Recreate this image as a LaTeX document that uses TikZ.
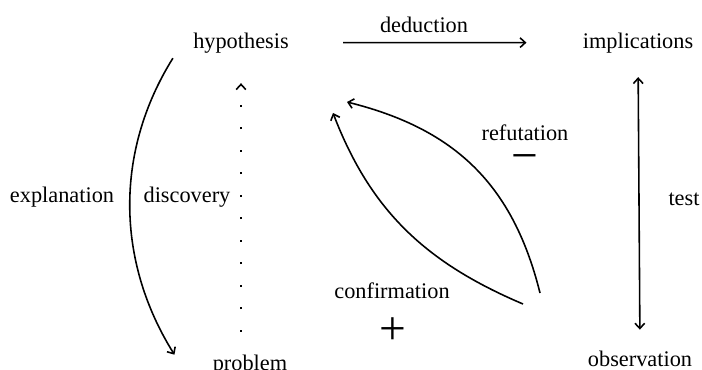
\documentclass[tikz,border=0pt]{standalone}
\usepackage{fontspec}
\setmainfont{Liberation Serif}
\usepackage{tikz}
\usetikzlibrary{arrows.meta, calc, positioning}

\tikzset{
  lbl/.style={inner sep=0pt, anchor=base, font=\fontsize{12.7}{15}\selectfont},
  sign/.style={inner sep=0pt, font=\fontsize{27}{30}\selectfont},
  link/.style={line width=0.9pt, -{Straight Barb[length=3pt,width=5.5pt]}},
}

\begin{document}
\begin{tikzpicture}
  \useasboundingbox (0,0) rectangle (14.04,7.38);

  %--- the four corners ---
  \node[lbl] (hyp)  at (4.82,6.42)  {hypothesis};
  \node[lbl] (impl) at (12.76,6.42) {implications};
  \node[lbl] (obs)  at (12.80,0.06) {observation};
  \node[lbl] (prob) at (5.00,-0.03) {problem};

  %--- labels ---
  \node[lbl] (ded)  at (8.48,6.74)  {deduction};
  \node[lbl] (tst)  at (13.68,3.28) {test};
  \node[lbl] (expl) at (1.24,3.34)  {explanation};
  \node[lbl] (disc) at (3.74,3.34)  {discovery};
  \node[lbl] (refu) at (10.50,4.58) {refutation};
  \node[lbl] (conf) at (7.84,1.42)  {confirmation};
  \node[sign] (minus) at (10.50,4.12) {−};
  \node[sign] (plus)  at (7.86,0.76)  {+};

  %--- free ends of the two loops ---
  \coordinate (refA) at (10.80,1.52);
  \coordinate (refB) at (6.94,5.34);
  \coordinate (conA) at (10.46,1.30);
  \coordinate (conB) at (6.66,5.12);

  %--- connectors ---
  \draw[link, shorten <=1.08cm, shorten >=1.12cm] (hyp.east) -- (impl.west);
  \draw[link, {Straight Barb[length=3pt,width=5.5pt]}-{Straight Barb[length=3pt,width=5.5pt]},
        shorten <=0.48cm, shorten >=0.41cm] (impl.south) -- (obs.north);
  \draw[link, dash pattern=on 1.2pt off 11.6pt, shorten <=0.46cm, shorten >=0.60cm]
    (hyp.south |- prob.north) -- (hyp.south);
  \draw[link] ([shift={(-0.40,-0.10)}]hyp.south west)
    to[out=238, in=122, looseness=0.95] ([shift={(-0.76,0.0)}]prob.north west);
  \draw[link] (refA) to[out=104, in=-14, looseness=1.05] (refB);
  \draw[link] (conA) to[out=157, in=-69] (conB);
\end{tikzpicture}
\end{document}
